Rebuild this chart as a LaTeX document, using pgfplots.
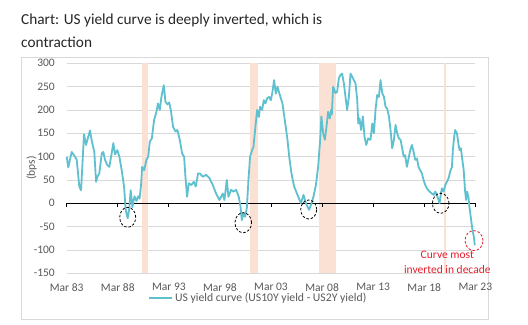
\documentclass[border=0pt]{standalone}
\usepackage{pgfplots}
\pgfplotsset{compat=1.18}
\usepackage{fontspec}
\setmainfont{Carlito}
\definecolor{linec}{RGB}{95,192,207}
\definecolor{rec}{RGB}{250,225,212}
\definecolor{gridc}{RGB}{217,217,217}
\definecolor{tickc}{RGB}{89,89,89}
\definecolor{redc}{RGB}{230,30,45}
\pgfplotstableread{
yr val
1983.17 100
1983.32 77
1983.50 95
1983.66 110
1983.98 100
1984.15 93
1984.40 36
1984.57 28
1984.73 93
1984.86 148
1985.06 125
1985.28 143
1985.45 156
1985.61 135
1985.87 110
1986.04 46
1986.17 57
1986.36 64
1986.60 107
1986.75 110
1986.92 93
1987.14 82
1987.34 78
1987.57 107
1987.73 129
1987.90 105
1988.12 114
1988.32 100
1988.55 71
1988.78 36
1988.94 -14
1989.14 -32
1989.30 -10
1989.43 28
1989.60 -8
1989.80 15
1990.00 5
1990.15 15
1990.30 10
1990.45 40
1990.55 78
1990.75 71
1990.97 93
1991.15 100
1991.30 132
1991.50 139
1991.72 178
1991.95 196
1992.10 214
1992.28 200
1992.44 228
1992.67 253
1992.83 218
1993.02 212
1993.20 216
1993.36 200
1993.58 164
1993.81 154
1994.00 157
1994.24 136
1994.46 107
1994.66 100
1994.79 57
1994.95 14
1995.12 43
1995.37 39
1995.61 46
1995.80 36
1996.03 64
1996.20 64
1996.49 57
1996.81 61
1997.14 54
1997.47 39
1997.79 21
1998.12 7
1998.45 21
1998.61 7
1998.84 50
1999.00 14
1999.26 29
1999.49 25
1999.75 29
2000.01 14
2000.18 -7
2000.31 -36
2000.47 -21
2000.63 -29
2000.80 -10
2000.96 50
2001.12 100
2001.32 114
2001.45 121
2001.64 164
2001.81 200
2001.98 185
2002.10 207
2002.30 200
2002.46 221
2002.62 214
2002.79 225
2002.99 228
2003.15 221
2003.31 239
2003.47 264
2003.64 235
2003.80 250
2004.03 232
2004.29 214
2004.52 178
2004.78 136
2004.95 100
2005.17 64
2005.43 36
2005.76 18
2006.09 0
2006.35 18
2006.58 0
2006.90 -14
2007.13 0
2007.32 14
2007.56 39
2007.78 78
2007.98 136
2008.10 186
2008.27 150
2008.44 136
2008.60 164
2008.76 196
2008.93 182
2009.05 200
2009.12 190
2009.25 250
2009.42 240
2009.48 236
2009.64 239
2009.81 268
2009.97 275
2010.13 278
2010.30 257
2010.46 228
2010.62 200
2010.79 228
2010.95 278
2011.12 271
2011.28 264
2011.44 257
2011.61 221
2011.71 171
2011.83 182
2011.99 157
2012.16 186
2012.32 143
2012.49 125
2012.68 139
2012.91 136
2013.08 171
2013.24 150
2013.40 200
2013.56 232
2013.73 228
2013.89 264
2014.06 236
2014.22 228
2014.38 207
2014.54 203
2014.71 186
2014.87 157
2015.03 118
2015.20 136
2015.36 168
2015.52 150
2015.69 139
2015.85 136
2016.01 118
2016.16 100
2016.30 103
2016.47 78
2016.63 96
2016.80 114
2016.96 125
2017.12 111
2017.29 93
2017.45 96
2017.61 78
2017.77 71
2017.94 64
2018.10 50
2018.27 39
2018.43 32
2018.69 25
2018.92 21
2019.08 18
2019.25 25
2019.41 18
2019.57 7
2019.67 0
2019.80 21
2019.90 32
2020.06 25
2020.23 39
2020.39 46
2020.55 54
2020.71 68
2020.88 78
2020.97 114
2021.10 143
2021.20 157
2021.37 150
2021.53 125
2021.63 114
2021.76 118
2021.90 93
2022.03 71
2022.16 28
2022.26 7
2022.36 25
2022.49 14
2022.59 -7
2022.76 -36
2022.89 -57
2023.02 -71
2023.12 -90
}\datatable
\begin{document}
\begin{tikzpicture}
\useasboundingbox (0bp,0bp) rectangle (528bp,325bp);
\fill[white] (0bp,0bp) rectangle (528bp,325bp);
\draw[gridc, line width=0.75bp] (21bp,6bp) rectangle (488bp,268bp);
\node[anchor=base west, inner sep=0pt, font=\fontsize{15.3bp}{18bp}\selectfont, text=black!85] at (21bp,300bp) {Chart: US yield curve is deeply inverted, which is};
\node[anchor=base west, inner sep=0pt, font=\fontsize{15.3bp}{18bp}\selectfont, text=black!85] at (21bp,277bp) {contraction};
\begin{axis}[
  at={(66.7bp,51.7bp)}, anchor=south west,
  scale only axis, width=408.6bp, height=210bp,
  xmin=1983.1667, xmax=2023.1667, ymin=-150, ymax=300,
  ytick={-150,-100,-50,0,50,100,150,200,250,300},
  xtick={1983.1667,1988.1667,1993.1667,1998.1667,2003.1667,2008.1667,2013.1667,2018.1667,2023.1667},
  xticklabels={Mar 83,Mar 88,Mar 93,Mar 98,Mar 03,Mar 08,Mar 13,Mar 18,Mar 23},
  axis line style={draw=none}, tick style={draw=none},
  ymajorgrids, major grid style={gridc, line width=0.75bp},
  /pgf/number format/assume math mode=true,
  ticklabel style={font=\fontsize{11.5bp}{13bp}\selectfont, text=tickc},
  yticklabel style={anchor=east, inner sep=0pt, xshift=-11.7bp},
  xticklabel style={anchor=north, inner sep=0pt, yshift=-9.7bp},
  legend style={at={(axis description cs:0.469,-0.119)}, anchor=center, draw=none, fill=none, inner sep=0pt, font=\fontsize{11.7bp}{13bp}\selectfont, text=tickc},
  legend image code/.code={\draw[#1] (0bp,0bp) -- (23bp,0bp);},
  clip=false,
]
\fill[rec] (axis cs:1990.50,-150) rectangle (axis cs:1991.17,300);
\fill[rec] (axis cs:2001.12,-150) rectangle (axis cs:2001.87,300);
\fill[rec] (axis cs:2007.90,-150) rectangle (axis cs:2009.50,300);
\fill[rec] (axis cs:2020.13,-150) rectangle (axis cs:2020.30,300);
\draw[black, line width=1bp] (axis cs:1983.1667,0) -- (axis cs:2023.1667,0);
\pgfplotsinvokeforeach{1983.1667,1988.1667,1993.1667,1998.1667,2003.1667,2008.1667,2013.1667,2018.1667,2023.1667}{
  \draw[black, line width=0.8bp] (axis cs:#1,0) -- ++(0bp,-4bp);
}
\addplot[color=linec, line width=1.8bp, line join=round, no markers] table[x=yr, y=val] {\datatable};
\addlegendentry{US yield curve (US10Y yield - US2Y yield)}
\draw[black, line width=0.8bp, dash pattern=on 2.5bp off 1.8bp] (axis cs:1989.14,-30) ellipse [x radius=8bp, y radius=10bp];
\draw[black, line width=0.8bp, dash pattern=on 2.5bp off 1.8bp] (axis cs:2000.45,-41.6) ellipse [x radius=8.3bp, y radius=10bp];
\draw[black, line width=0.8bp, dash pattern=on 2.5bp off 1.8bp] (axis cs:2006.86,-13.3) ellipse [x radius=8bp, y radius=9.5bp];
\draw[black, line width=0.8bp, dash pattern=on 2.5bp off 1.8bp] (axis cs:2019.78,0) ellipse [x radius=8.3bp, y radius=10bp];
\draw[redc, line width=0.8bp, dash pattern=on 2.5bp off 1.8bp] (axis cs:2023.04,-80) ellipse [x radius=9bp, y radius=10bp];
\end{axis}
\node[rotate=90, inner sep=0pt, font=\fontsize{11.5bp}{13bp}\selectfont, text=tickc] at (31.7bp,157bp) {(bps)};
\node[align=center, inner sep=0pt, font=\fontsize{11.5bp}{15bp}\selectfont, text=redc] at (447.3bp,62.5bp) {Curve most\\inverted in decade};
\end{tikzpicture}
\end{document}
